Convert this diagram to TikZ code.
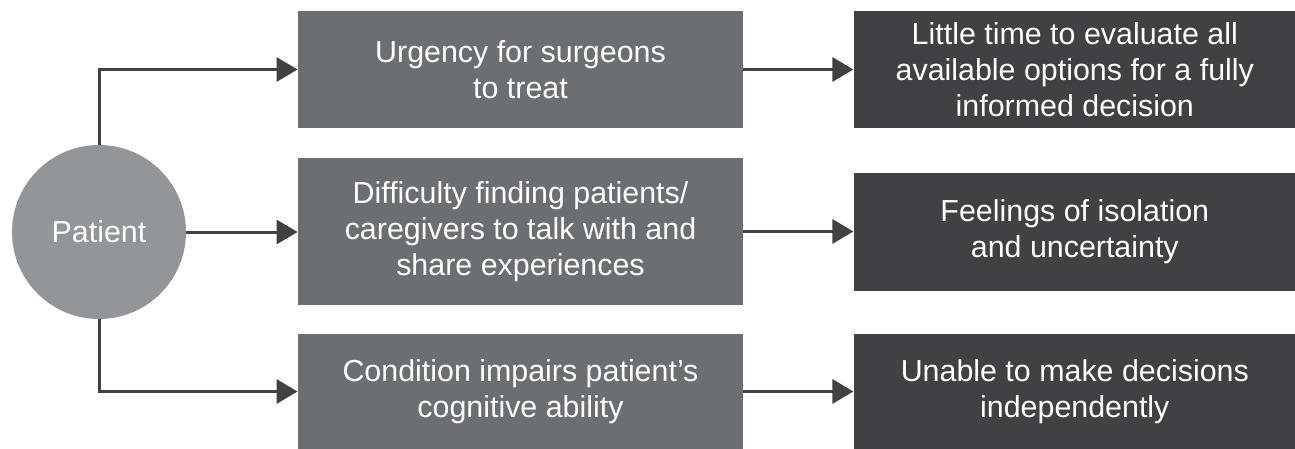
\documentclass[tikz,border=0pt]{standalone}
\usepackage{fontspec}
\setmainfont{Liberation Sans}
\usetikzlibrary{arrows.meta, positioning}

\definecolor{circlegray}{HTML}{939598}
\definecolor{midgray}{HTML}{6D6E71}
\definecolor{darkgray}{HTML}{414042}

\begin{document}
\begin{tikzpicture}[x=0.5pt, y=-0.5pt, node distance=55pt, >={Triangle[length=10.5pt, width=12pt]},
  patientnode/.style={circle, fill=circlegray, minimum size=87pt, inner sep=0pt, text=white},
  causebox/.style={rectangle, fill=midgray, minimum width=222.5pt, inner sep=0pt, text=white, align=center},
  effectbox/.style={rectangle, fill=darkgray, minimum width=221pt, inner sep=0pt, text=white, align=center},
  link/.style={draw=darkgray, line width=1.5pt, ->}]
\useasboundingbox (0,0) rectangle (1295,449);
\fontsize{15.2}{18}\selectfont

\node [patientnode] (patient) at (99,232) {Patient};

\node [causebox, minimum height=58.5pt] (urgency) at (520.5,69.5) {Urgency for surgeons\\to treat};
\node [causebox, minimum height=73.5pt] (finding) at (520.5,231.5) {Difficulty finding patients/\\caregivers to talk with and\\share experiences};
\node [causebox, minimum height=57.5pt] (impairs) at (520.5,391.5) {Condition impairs patient’s\\cognitive ability};

\node [effectbox, minimum height=58.5pt, right = of urgency] (littletime) {Little time to evaluate all\\available options for a fully\\informed decision};
\node [effectbox, minimum height=59pt, right = of finding] (isolation) {Feelings of isolation\\and uncertainty};
\node [effectbox, minimum height=57.5pt, right = of impairs] (unable) {Unable to make decisions\\independently};

\draw [link] (patient.north) |- (urgency.west);
\draw [link] (patient.east) -- (patient.east -| finding.west);
\draw [link] (patient.south) |- (impairs.west);

\draw [link] (urgency) -- (littletime);
\draw [link] (finding.east) -- (finding.east -| isolation.west);
\draw [link] (impairs) -- (unable);

\end{tikzpicture}
\end{document}
